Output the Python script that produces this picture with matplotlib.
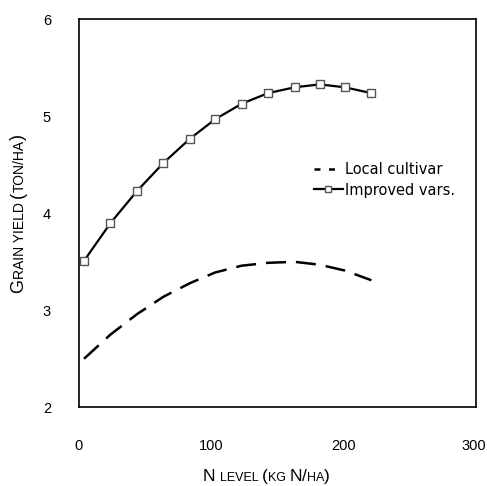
import matplotlib
matplotlib.use("Agg")
import matplotlib.pyplot as plt
from matplotlib.lines import Line2D
from matplotlib.transforms import ScaledTranslation

# ---- data ----
n_level = [4, 24, 44, 64, 84, 103, 123, 143, 163, 182, 201, 221]
improved = [3.51, 3.90, 4.23, 4.52, 4.77, 4.97, 5.13, 5.24, 5.30, 5.33, 5.30, 5.24]
local = [2.50, 2.75, 2.96, 3.14, 3.28, 3.39, 3.46, 3.49, 3.50, 3.47, 3.41, 3.31]
x_ticks = [0, 100, 200, 300]
y_ticks = [2, 3, 4, 5, 6]
series_names = ["Local cultivar", "Improved vars."]

plt.rcParams['font.family'] = ['Liberation Sans', 'DejaVu Sans']

fig = plt.figure(figsize=(4.87, 4.86), dpi=100)
ax = fig.add_axes([0.1616, 0.162, 0.8158, 0.798])

ax.plot(n_level, local, color='black', lw=1.8, dashes=(8, 4))
ax.plot(n_level, improved, color='black', lw=1.6, marker='s', markersize=5.5,
        mfc='white', mec='#555555', mew=1.0)

ax.set_xlim(0, 300)
ax.set_ylim(2, 6)
ax.set_xticks(x_ticks)
ax.set_yticks(y_ticks)
ax.tick_params(axis='both', length=0, labelsize=10.5)
ax.tick_params(axis='x', pad=23)
ax.tick_params(axis='y', pad=20)
for s in ax.spines.values():
    s.set_linewidth(1.2)
    s.set_color('black')
# keep the last x tick label inside the figure (right edge at figure edge)
last = ax.get_xticklabels()[-1]
last.set_horizontalalignment('right')
last.set_transform(last.get_transform() +
                   ScaledTranslation(10 / 100, 0, fig.dpi_scale_trans))

# legend proxies (same styles as the plotted series, shorter dashes for the key)
h_local = Line2D([], [], color='black', lw=1.8, dashes=(2.4, 3.4))
h_impr = Line2D([], [], color='black', lw=1.6, marker='s', markersize=5.0,
                mfc='white', mec='#555555', mew=1.0)
ax.legend([h_local, h_impr], series_names, loc='center left',
          bbox_to_anchor=(0.592, 0.586), frameon=False,
          prop={'family': 'DejaVu Sans', 'size': 10.5},
          borderaxespad=0, borderpad=0, handlelength=2.0,
          handletextpad=0.15, labelspacing=0.35)


def chain_text(pieces, start_xy, rotation=0):
    """Draw small-caps style label by chaining text pieces."""
    prev = None
    for txt, size in pieces:
        if prev is None:
            prev = fig.text(start_xy[0], start_xy[1], txt, fontsize=size,
                            rotation=rotation,
                            ha='left' if rotation == 0 else 'right',
                            va='baseline' if rotation == 0 else 'bottom')
        else:
            if rotation == 0:
                prev = ax.annotate(txt, xy=(1, 0), xycoords=prev,
                                   fontsize=size, ha='left', va='bottom',
                                   annotation_clip=False)
            else:
                prev = ax.annotate(txt, xy=(1, 1), xycoords=prev,
                                   fontsize=size, ha='right', va='bottom',
                                   rotation=90, annotation_clip=False)
    return prev

xlabel_pieces = [("N ", 12.5), ("LEVEL ", 9), ("(", 12.5), ("KG ", 9),
                 ("N", 12.5), ("/", 12.5), ("HA", 9), (")", 12.5)]
ylabel_pieces = [("G", 13), ("RAIN YIELD ", 10), ("(", 13),
                 ("TON/HA", 10), (")", 13)]

chain_text(xlabel_pieces, (203 / 487, 1 - 481 / 486), rotation=0)
chain_text(ylabel_pieces, (27 / 487, 1 - 293 / 486), rotation=90)

fig.savefig("out.png", dpi=100)
